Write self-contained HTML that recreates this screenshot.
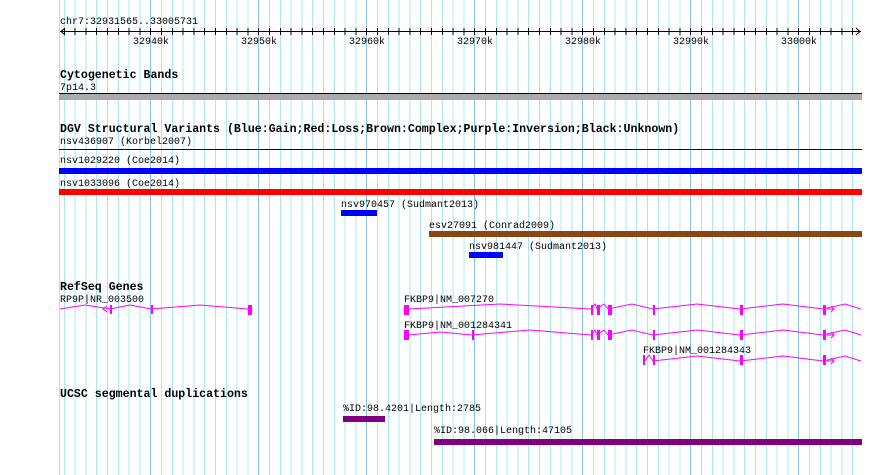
<!DOCTYPE html>
<html><head><meta charset="utf-8"><style>
html,body{margin:0;padding:0;background:#fff}
svg{display:block}
text{font-family:"Liberation Mono",monospace;font-size:10px;fill:#000}
.b{font-weight:bold;font-size:11.6px}
</style></head><body>
<svg width="890" height="475" viewBox="0 0 890 475" xmlns="http://www.w3.org/2000/svg">
<rect width="890" height="475" fill="#fff"/>
<g stroke="#aae8f0" stroke-width="1" shape-rendering="crispEdges">
<path d="M59.5 0V475M64.3 0V475M75.1 0V475M85.9 0V475M96.7 0V475M107.5 0V475M118.3 0V475M129.1 0V475M139.9 0V475M161.5 0V475M172.3 0V475M183.1 0V475M193.9 0V475M204.7 0V475M215.5 0V475M226.3 0V475M237.1 0V475M247.9 0V475M269.5 0V475M280.3 0V475M291.1 0V475M301.9 0V475M312.7 0V475M323.5 0V475M334.3 0V475M345.1 0V475M355.9 0V475M377.5 0V475M388.3 0V475M399.1 0V475M409.9 0V475M420.7 0V475M431.5 0V475M442.3 0V475M453.1 0V475M463.9 0V475M485.5 0V475M496.3 0V475M507.1 0V475M517.9 0V475M528.7 0V475M539.5 0V475M550.3 0V475M561.1 0V475M571.9 0V475M593.5 0V475M604.3 0V475M615.1 0V475M625.9 0V475M636.7 0V475M647.5 0V475M658.3 0V475M669.1 0V475M679.9 0V475M701.5 0V475M712.3 0V475M723.1 0V475M733.9 0V475M744.7 0V475M755.5 0V475M766.3 0V475M777.1 0V475M787.9 0V475M809.5 0V475M820.3 0V475M831.1 0V475M841.9 0V475M852.7 0V475"/>
</g>
<g stroke="#88c4e8" stroke-width="1" shape-rendering="crispEdges">
<path d="M150.7 0V475M258.7 0V475M366.7 0V475M474.7 0V475M582.7 0V475M690.7 0V475M798.7 0V475"/>
</g>
<!-- ruler -->
<text x="60" y="24">chr7:32931565..33005731</text>
<g stroke="#000" stroke-width="1" fill="none" shape-rendering="crispEdges">
<path d="M60 31.5H861"/>
<path d="M64.3 28V35M75.1 28V35M85.9 28V35M96.7 28V35M107.5 28V35M118.3 28V35M129.1 28V35M139.9 28V35M150.7 28V35M161.5 28V35M172.3 28V35M183.1 28V35M193.9 28V35M204.7 28V35M215.5 28V35M226.3 28V35M237.1 28V35M247.9 28V35M258.7 28V35M269.5 28V35M280.3 28V35M291.1 28V35M301.9 28V35M312.7 28V35M323.5 28V35M334.3 28V35M345.1 28V35M355.9 28V35M366.7 28V35M377.5 28V35M388.3 28V35M399.1 28V35M409.9 28V35M420.7 28V35M431.5 28V35M442.3 28V35M453.1 28V35M463.9 28V35M474.7 28V35M485.5 28V35M496.3 28V35M507.1 28V35M517.9 28V35M528.7 28V35M539.5 28V35M550.3 28V35M561.1 28V35M571.9 28V35M582.7 28V35M593.5 28V35M604.3 28V35M615.1 28V35M625.9 28V35M636.7 28V35M647.5 28V35M658.3 28V35M669.1 28V35M679.9 28V35M690.7 28V35M701.5 28V35M712.3 28V35M723.1 28V35M733.9 28V35M744.7 28V35M755.5 28V35M766.3 28V35M777.1 28V35M787.9 28V35M798.7 28V35M809.5 28V35M820.3 28V35M831.1 28V35M841.9 28V35M852.7 28V35"/>
</g>
<path d="M65 28L61 31.5L65 35M856 28L860 31.5L856 35" stroke="#000" fill="none"/>
<text x="133" y="44">32940k</text>
<text x="241" y="44">32950k</text>
<text x="349" y="44">32960k</text>
<text x="457" y="44">32970k</text>
<text x="565" y="44">32980k</text>
<text x="673" y="44">32990k</text>
<text x="781" y="44">33000k</text>
<!-- cytobands -->
<text class="b" x="60" y="78">Cytogenetic Bands</text>
<text x="60" y="90">7p14.3</text>
<rect x="59" y="93" width="803" height="1" fill="#000"/>
<rect x="59" y="94" width="803" height="6" fill="#aaaaaa"/>
<!-- DGV -->
<text class="b" x="60" y="132">DGV Structural Variants (Blue:Gain;Red:Loss;Brown:Complex;Purple:Inversion;Black:Unknown)</text>
<text x="60" y="144">nsv436907 (Korbel2007)</text>
<rect x="59" y="149" width="803" height="1" fill="#000080"/>
<text x="60" y="163">nsv1029220 (Coe2014)</text>
<rect x="59" y="168" width="803" height="6" fill="#0000ff"/>
<text x="60" y="186">nsv1033096 (Coe2014)</text>
<rect x="59" y="189" width="803" height="6" fill="#ff0000"/>
<text x="341" y="207">nsv970457 (Sudmant2013)</text>
<rect x="341" y="210" width="36" height="6" fill="#0000ff"/>
<text x="429" y="228">esv27091 (Conrad2009)</text>
<rect x="429" y="231" width="433" height="6" fill="#8b4513"/>
<text x="469" y="249">nsv981447 (Sudmant2013)</text>
<rect x="469" y="252" width="34" height="6" fill="#0000ff"/>
<!-- RefSeq -->
<text class="b" x="60" y="290">RefSeq Genes</text>
<text x="60" y="302">RP9P|NR_003500</text>
<text x="404" y="302">FKBP9|NM_007270</text>
<text x="404" y="328">FKBP9|NM_001284341</text>
<text x="643" y="353">FKBP9|NM_001284343</text>
<g stroke="#ff00ff" stroke-width="1" fill="none">
<polyline points="60,309 85,305 110,309 130,305 151,309 200,305 248,309"/>
<path d="M107 306L103 309L107 312"/>
<polyline points="409,309 500,304 591,309 595,304 597,309 604,304 608,309 632,304 653,309 697,304 740,309 783,304 823,309 845,304 861,309"/>
<path d="M827 309H834M831 306L834 309L831 312"/>
<polyline points="409,335 440,332 472,335 530,330 591,335 595,330 597,335 604,330 608,335 632,330 653,335 697,330 740,335 783,330 823,335 845,330 861,335"/>
<path d="M827 335H834M831 332L834 335L831 338"/>
<polyline points="645,361 649,355 653,361 697,356 740,361 783,356 823,361 845,356 861,361"/>
<path d="M827 361H834M831 358L834 361L831 364"/>
</g>
<g fill="#ff00ff">
<rect x="110" y="305" width="2" height="9"/>
<rect x="151" y="305" width="2" height="9"/>
<rect x="248" y="305" width="4" height="10"/>
<rect x="404" y="305" width="5" height="10"/>
<rect x="591" y="305" width="2" height="10"/><rect x="597" y="305" width="3" height="10"/><rect x="608" y="305" width="4" height="10"/>
<rect x="653" y="305" width="2" height="10"/><rect x="740" y="305" width="3" height="10"/><rect x="823" y="305" width="3" height="10"/>
<rect x="404" y="330" width="5" height="10"/><rect x="472" y="330" width="2" height="10"/>
<rect x="591" y="330" width="2" height="10"/><rect x="597" y="330" width="3" height="10"/><rect x="608" y="330" width="4" height="10"/>
<rect x="653" y="330" width="2" height="10"/><rect x="740" y="330" width="3" height="10"/><rect x="823" y="330" width="3" height="10"/>
<rect x="643" y="355" width="2" height="10"/><rect x="653" y="355" width="2" height="10"/>
<rect x="740" y="355" width="3" height="10"/><rect x="823" y="355" width="3" height="10"/>
</g>
<!-- seg dups -->
<text class="b" x="60" y="397">UCSC segmental duplications</text>
<text x="343" y="411">%ID:98.4201|Length:2785</text>
<rect x="343" y="416" width="42" height="6" fill="#800080"/>
<text x="434" y="433">%ID:98.066|Length:47105</text>
<rect x="434" y="439" width="428" height="6" fill="#800080"/>
</svg>
</body></html>
